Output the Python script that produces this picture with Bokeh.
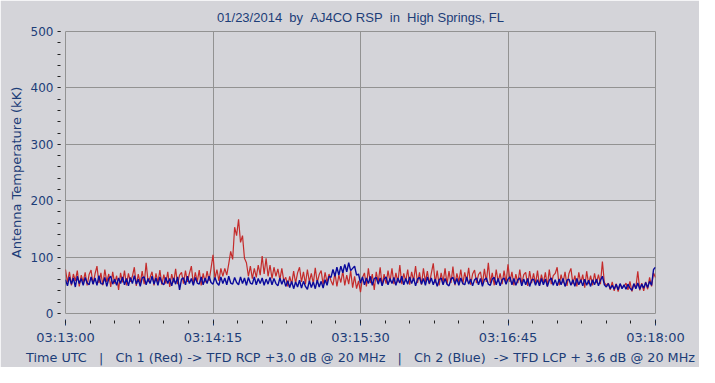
from bokeh.plotting import figure
from bokeh.models import Range1d, FixedTicker
from bokeh.embed import file_html
from bokeh.resources import INLINE

NB = "\u00a0"
TITLE = "01/23/2014" + NB * 2 + "by" + NB * 2 + "AJ4CO RSP" + NB * 2 + "in" + NB * 2 + "High Springs, FL"
Y_LABEL = "Antenna Temperature (kK)"
X_LABEL = ("Time UTC" + NB * 3 + "|" + NB * 3 + "Ch 1 (Red) -> TFD RCP +3.0 dB @ 20 MHz"
           + NB * 3 + "|" + NB * 3 + "Ch 2 (Blue)" + NB * 2 + "-> TFD LCP + 3.6 dB @ 20 MHz")

TIME_TICKS = [0, 75, 150, 225, 300]          # seconds after 03:13:00
TIME_LABELS = ["03:13:00", "03:14:15", "03:15:30", "03:16:45", "03:18:00"]
TEMP_TICKS = [0, 100, 200, 300, 400, 500]

# Ch 1 (Red), one reading per second from 03:13:00
red = [
    78, 55, 74, 50, 70, 58, 76, 48, 68, 56, 73, 50, 69, 77, 52,
    70, 84, 54, 72, 50, 78, 56, 70, 47, 74, 53, 67, 42, 72, 55,
    76, 50, 71, 56, 66, 82, 49, 70, 54, 75, 52, 90, 56, 64, 74,
    50, 71, 55, 77, 51, 69, 53, 74, 47, 70, 55, 79, 52, 68, 73,
    53, 76, 56, 71, 84, 52, 73, 56, 77, 50, 71, 55, 75, 58, 80,
    104, 62, 78, 58, 80, 66, 80, 68, 88, 110, 96, 153, 138, 167, 126,
    138, 98, 90, 66, 84, 62, 80, 64, 86, 68, 102, 70, 98, 66, 86,
    62, 82, 66, 79, 60, 80, 58, 64, 48, 66, 52, 75, 54, 72, 82,
    56, 74, 52, 78, 56, 71, 53, 81, 55, 69, 76, 51, 73, 55, 70,
    58, 50, 72, 48, 68, 55, 75, 50, 68, 52, 76, 46, 66, 44, 58,
    38, 64, 72, 48, 80, 54, 70, 42, 74, 55, 82, 50, 70, 53, 76,
    56, 80, 52, 72, 55, 86, 52, 71, 57, 78, 51, 74, 58, 84, 54,
    73, 51, 80, 56, 75, 52, 71, 89, 54, 76, 50, 72, 56, 80, 52,
    75, 54, 83, 50, 71, 56, 78, 52, 73, 57, 81, 51, 70, 77, 54,
    69, 74, 52, 79, 56, 90, 54, 72, 50, 78, 56, 71, 52, 76, 54,
    87, 56, 74, 50, 70, 54, 78, 52, 69, 73, 49, 75, 54, 71, 52,
    76, 50, 69, 54, 73, 48, 78, 52, 67, 71, 82, 50, 69, 54, 74,
    49, 71, 80, 52, 67, 48, 73, 54, 69, 46, 75, 52, 67, 50, 71,
    54, 69, 52, 92, 55, 50, 54, 42, 56, 40, 53, 39, 52, 46, 48,
    54, 42, 57, 39, 52, 46, 75, 41, 54, 40, 56, 43, 64, 48, 72,
    64,
]

# Ch 2 (Blue), one reading per second from 03:13:00
blue = [
    60, 49, 65, 52, 63, 47, 66, 53, 62, 50, 64, 54, 51, 65, 52,
    63, 50, 67, 53, 52, 64, 48, 62, 66, 52, 61, 50, 63, 53, 65,
    51, 62, 49, 64, 53, 67, 52, 61, 48, 63, 65, 51, 62, 53, 66,
    52, 63, 50, 65, 54, 51, 64, 53, 62, 49, 63, 52, 65, 42, 61,
    63, 51, 66, 53, 62, 50, 64, 54, 52, 65, 51, 63, 53, 66, 55,
    52, 64, 54, 50, 65, 53, 63, 51, 66, 54, 52, 64, 55, 51, 65,
    53, 63, 50, 64, 54, 52, 65, 51, 62, 53, 63, 50, 61, 52, 64,
    51, 62, 53, 49, 63, 52, 61, 48, 58, 46, 57, 44, 56, 47, 59,
    45, 57, 48, 43, 58, 46, 56, 44, 59, 47, 57, 45, 60, 50, 66,
    64, 78, 66, 82, 68, 84, 72, 87, 74, 90, 76, 80, 84, 68, 70,
    54, 65, 51, 63, 53, 66, 50, 62, 64, 52, 63, 49, 61, 65, 51,
    62, 53, 64, 50, 63, 54, 66, 51, 62, 52, 65, 53, 63, 49, 61,
    64, 52, 62, 50, 65, 53, 63, 51, 61, 48, 60, 63, 51, 62, 52,
    49, 61, 64, 52, 62, 50, 63, 53, 51, 65, 52, 61, 49, 60, 63,
    51, 62, 48, 60, 63, 52, 50, 61, 64, 51, 62, 49, 60, 63, 52,
    61, 65, 51, 62, 50, 60, 63, 49, 61, 51, 62, 48, 59, 61, 50,
    60, 49, 62, 51, 61, 48, 59, 63, 50, 60, 49, 61, 51, 62, 48,
    59, 61, 50, 60, 48, 62, 51, 60, 49, 61, 50, 59, 48, 60, 51,
    61, 49, 59, 66, 51, 47, 53, 44, 50, 43, 52, 42, 53, 44, 51,
    43, 52, 45, 41, 53, 44, 54, 43, 52, 45, 55, 46, 57, 50, 78,
    82,
]

BG = "#D4D4D9"
GRID = "#929292"
TXT = "#1C3D78"
RED = "#C42B2B"
BLUE = "#0A0A9C"

p = figure(width=699, height=367, output_backend="svg", toolbar_location=None,
           x_range=Range1d(0, 300), y_range=Range1d(0, 500),
           min_border_left=65, min_border_right=44, min_border_top=30,
           min_border_bottom=47,
           background_fill_color=BG, border_fill_color=BG,
           outline_line_color=GRID, outline_line_width=1)

p.line(list(range(len(red))), red, line_color=RED, line_width=1.2)
p.line(list(range(len(blue))), blue, line_color=BLUE, line_width=1.4)

p.title.text = TITLE
p.title.align = "center"
p.title.standoff = 14
p.title.text_font = "Liberation Sans"
p.title.text_font_size = "13px"
p.title.text_font_style = "normal"
p.title.text_color = TXT

# x axis
xa = p.xaxis[0]
xa.ticker = FixedTicker(ticks=TIME_TICKS, minor_ticks=[12.5 * i for i in range(25)])
xa.major_label_overrides = dict(zip(TIME_TICKS, TIME_LABELS))
xa.axis_line_color = None
xa.major_tick_in = -6
xa.major_tick_out = 12
xa.major_tick_line_color = TXT
xa.minor_tick_in = -7
xa.minor_tick_out = 10
xa.minor_tick_line_color = "#222222"
xa.major_label_standoff = 4
xa.major_label_text_font = "DejaVu Sans"
xa.major_label_text_font_size = "13px"
xa.major_label_text_color = TXT
xa.axis_label = X_LABEL
xa.axis_label_standoff = 2
xa.axis_label_text_font = "DejaVu Sans"
xa.axis_label_text_font_size = "12.8px"
xa.axis_label_text_font_style = "normal"
xa.axis_label_text_color = TXT

# y axis
ya = p.yaxis[0]
ya.ticker = FixedTicker(ticks=TEMP_TICKS, minor_ticks=[20 * i for i in range(26)])
ya.axis_line_color = None
ya.major_tick_in = -5
ya.major_tick_out = 7
ya.major_tick_line_color = "#333333"
ya.minor_tick_in = -5
ya.minor_tick_out = 8
ya.minor_tick_line_color = "#222222"
ya.major_label_standoff = 4
ya.major_label_text_font = "DejaVu Sans"
ya.major_label_text_font_size = "12px"
ya.major_label_text_color = TXT
ya.axis_label = Y_LABEL
ya.axis_label_standoff = 4
ya.axis_label_text_font = "DejaVu Sans"
ya.axis_label_text_font_size = "13px"
ya.axis_label_text_font_style = "normal"
ya.axis_label_text_color = TXT

p.xgrid.grid_line_color = GRID
p.ygrid.grid_line_color = GRID

open("out.html", "w").write(file_html(p, INLINE))
